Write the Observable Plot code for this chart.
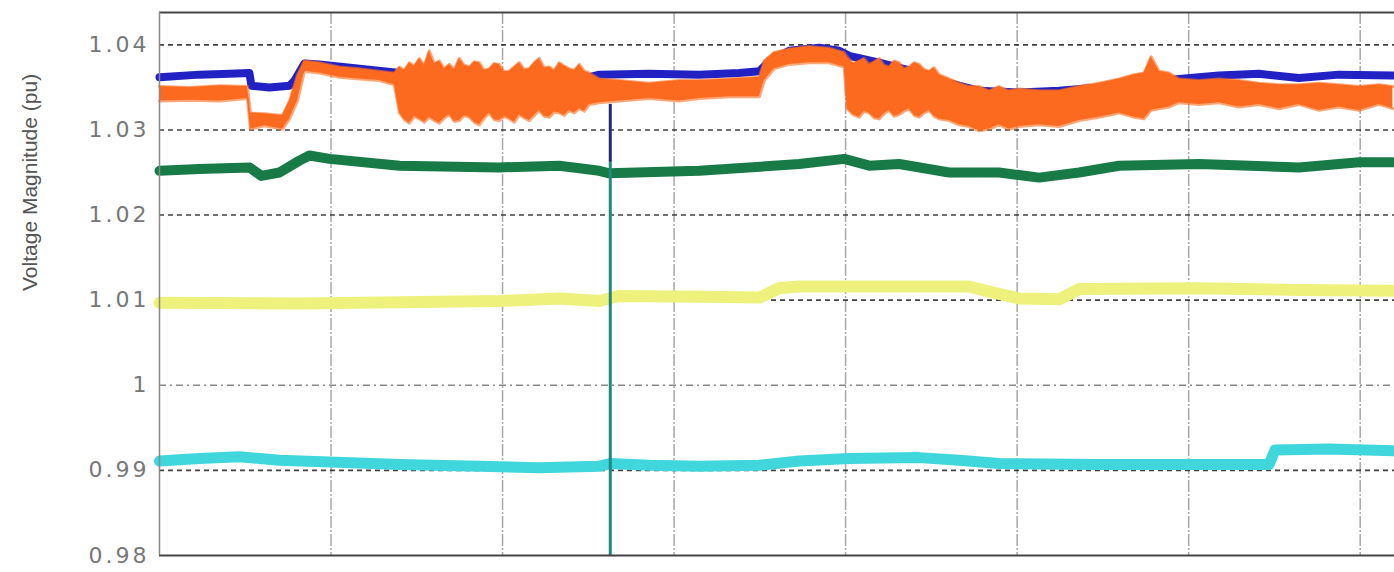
<!DOCTYPE html>
<html><head><meta charset="utf-8">
<script src="https://cdn.jsdelivr.net/npm/d3@7"></script>
<script src="https://cdn.jsdelivr.net/npm/@observablehq/plot@0.6"></script>
<style>body{margin:0;background:#fff}</style>
</head><body><div id="chart"></div>
<script>
const yTicks = [0.98, 0.99, 1, 1.01, 1.02, 1.03, 1.04];
const yTickLabels = ["0.98", "0.99", "1", "1.01", "1.02", "1.03", "1.04"];
const xGrid = [1, 2, 3, 4, 5, 6, 7];
const yLabel = "Voltage Magnitude (pu)";

const blueT = [0,0.233,0.408,0.524,0.536,0.641,0.758,0.787,0.845,0.932,1.166,1.399,1.690,1.981,2.273,2.506,2.564,2.855,3.147,3.380,3.497,3.555,3.671,3.846,3.963,4.021,4.196,4.429,4.604,4.779,5.012,5.245,5.478,5.711,5.944,6.177,6.410,6.643,6.876,7.191];
const blueV = [1.0362,1.0365,1.0366,1.0367,1.0352,1.0350,1.0352,1.0358,1.0378,1.0377,1.0372,1.0367,1.0364,1.0364,1.0364,1.0362,1.0365,1.0366,1.0365,1.0367,1.0369,1.0381,1.0393,1.03965,1.0393,1.0387,1.0379,1.0367,1.0355,1.0346,1.0344,1.0346,1.0350,1.0355,1.0360,1.0364,1.0366,1.0361,1.0365,1.0364];

const orangeT = [0,0.175,0.350,0.513,0.530,0.612,0.717,0.758,0.804,0.845,0.932,1.049,1.166,1.282,1.369,1.399,1.428,1.457,1.486,1.515,1.544,1.573,1.602,1.632,1.661,1.690,1.719,1.748,1.777,1.807,1.836,1.865,1.894,1.923,1.952,1.981,2.010,2.040,2.069,2.098,2.127,2.156,2.185,2.214,2.243,2.273,2.302,2.331,2.360,2.389,2.418,2.448,2.477,2.506,2.564,2.681,2.855,3.030,3.147,3.322,3.497,3.526,3.584,3.671,3.788,3.904,3.992,4.009,4.044,4.079,4.108,4.138,4.167,4.196,4.225,4.254,4.283,4.312,4.341,4.371,4.400,4.429,4.458,4.487,4.516,4.545,4.604,4.662,4.720,4.779,4.837,4.895,4.953,5.012,5.128,5.245,5.361,5.478,5.594,5.682,5.740,5.781,5.828,5.886,5.944,6.061,6.177,6.294,6.410,6.527,6.643,6.760,6.876,6.993,7.110,7.191];
const orangeLo = [1.0334,1.0335,1.0334,1.0337,1.0301,1.0305,1.0301,1.0313,1.0334,1.0369,1.0367,1.0362,1.0360,1.0358,1.0353,1.0320,1.0312,1.0308,1.0316,1.0313,1.0309,1.0315,1.0311,1.0308,1.0314,1.0318,1.0310,1.0311,1.0317,1.0315,1.0309,1.0306,1.0314,1.0320,1.0312,1.0311,1.0316,1.0313,1.0309,1.0318,1.0314,1.0311,1.0317,1.0323,1.0316,1.0315,1.0321,1.0320,1.0317,1.0323,1.0320,1.0325,1.0322,1.0330,1.0332,1.0334,1.0337,1.0334,1.0337,1.0339,1.0339,1.0358,1.0372,1.0377,1.0379,1.0379,1.0374,1.0325,1.0318,1.0315,1.0322,1.0320,1.0314,1.0313,1.0319,1.0323,1.0316,1.0318,1.0322,1.0325,1.0317,1.0315,1.0320,1.0323,1.0316,1.0313,1.0311,1.0306,1.0304,1.0299,1.0301,1.0306,1.0301,1.0304,1.0306,1.0304,1.0311,1.0315,1.0320,1.0315,1.0313,1.0323,1.0325,1.0327,1.0332,1.0330,1.0332,1.0327,1.0330,1.0325,1.0330,1.0323,1.0327,1.0323,1.0330,1.0325];
const orangeHi = [1.0351,1.0350,1.0352,1.0351,1.0320,1.0319,1.0317,1.0334,1.0364,1.0381,1.0379,1.0374,1.0372,1.0369,1.0367,1.0374,1.0370,1.0379,1.0375,1.0384,1.0376,1.0393,1.0378,1.0381,1.0372,1.0377,1.0371,1.0384,1.0376,1.0374,1.0380,1.0379,1.0370,1.0372,1.0378,1.0377,1.0368,1.0369,1.0374,1.0379,1.0371,1.0372,1.0379,1.0384,1.0373,1.0374,1.0370,1.0379,1.0375,1.0372,1.0370,1.0377,1.0369,1.0367,1.0360,1.0358,1.0355,1.0358,1.0358,1.0360,1.0362,1.0381,1.0391,1.0395,1.0398,1.0396,1.0391,1.0386,1.0378,1.0381,1.0384,1.0377,1.0380,1.0384,1.0376,1.0374,1.0381,1.0379,1.0372,1.0374,1.0379,1.0377,1.0371,1.0369,1.0373,1.0365,1.0360,1.0355,1.0351,1.0351,1.0346,1.0351,1.0346,1.0348,1.0346,1.0346,1.0351,1.0355,1.0360,1.0365,1.0367,1.0386,1.0369,1.0367,1.0360,1.0358,1.0360,1.0358,1.0355,1.0353,1.0353,1.0355,1.0353,1.0351,1.0353,1.0351];

const greenT = [0,0.233,0.524,0.594,0.699,0.816,0.874,0.991,1.399,1.981,2.331,2.564,2.622,3.147,3.730,3.992,4.138,4.312,4.604,4.895,5.128,5.361,5.594,6.061,6.643,6.993,7.191];
const greenV = [1.0252,1.0254,1.0256,1.0246,1.0250,1.0264,1.0270,1.0266,1.0258,1.0256,1.0258,1.0252,1.0249,1.0252,1.0260,1.0266,1.0258,1.0260,1.0250,1.0250,1.0244,1.0250,1.0258,1.0260,1.0256,1.0262,1.0262];

const yellowT = [0,0.816,1.632,1.981,2.331,2.564,2.681,3.147,3.497,3.613,3.730,4.720,4.837,5.012,5.245,5.361,6.061,6.643,7.191];
const yellowV = [1.0097,1.0096,1.0098,1.0099,1.0102,1.0099,1.0105,1.0104,1.0103,1.0114,1.0116,1.0116,1.0110,1.0102,1.0101,1.0113,1.0114,1.0112,1.0111];

const cyanT = [0,0.233,0.466,0.699,0.991,1.399,1.865,2.214,2.564,2.628,2.855,3.147,3.497,3.730,4.021,4.429,4.662,4.895,5.478,6.469,6.503,6.818,7.191];
const cyanV = [0.9911,0.9914,0.9916,0.9912,0.9910,0.9907,0.9905,0.9903,0.9905,0.9908,0.9906,0.9905,0.9906,0.9911,0.9914,0.9915,0.9912,0.9908,0.9907,0.9907,0.9924,0.9925,0.9923];

const spikeT = [2.628];
const spikeTop = [1.0330];
const spikeJoin = [1.0262];
const spikeBottom = [0.98];

const toPts = (t, v) => t.map((x, i) => ({t: x, v: v[i]}));
const blue = toPts(blueT, blueV);
const green = toPts(greenT, greenV);
const yellow = toPts(yellowT, yellowV);
const cyan = toPts(cyanT, cyanV);
const orange = orangeT.map((x, i) => ({t: x, lo: orangeLo[i], hi: orangeHi[i]}));
const spike = spikeT.map((x, i) => ({t: x, top: spikeTop[i], join: spikeJoin[i], bottom: spikeBottom[i]}));
const hGridDark = yTicks.filter(d => d > 0.98 && d !== 1);
const hGridLight = yTicks.filter(d => d === 1);

const chart = Plot.plot({
  width: 1394,
  height: 572,
  marginLeft: 159,
  marginRight: 0,
  marginTop: 12,
  marginBottom: 17,
  x: {domain: [0, 7.2], axis: null},
  y: {domain: [0.98, 1.0438], axis: null},
  style: {background: "#fff", fontFamily: "DejaVu Sans"},
  marks: [
    Plot.ruleX(xGrid, {stroke: "#a8a8a8", strokeWidth: 1.5, strokeDasharray: "12,2,2,2"}),
    Plot.ruleY(hGridDark, {stroke: "#222", strokeWidth: 1.6, strokeDasharray: "5,4", strokeOpacity: 0.85}),
    Plot.ruleY(hGridLight, {stroke: "#555", strokeWidth: 1.4, strokeDasharray: "7,4,2,4", strokeOpacity: 0.7}),
    Plot.line(blue, {x: "t", y: "v", stroke: "#2222c4", strokeWidth: 8, curve: "linear"}),
    Plot.areaY(orange, {x: "t", y1: "lo", y2: "hi", fill: "#fb6a1e", curve: "linear"}),
    Plot.line(orange, {x: "t", y: "hi", stroke: "#fb6a1e", strokeWidth: 3, strokeOpacity: 0.6}),
    Plot.line(orange, {x: "t", y: "lo", stroke: "#fb6a1e", strokeWidth: 3, strokeOpacity: 0.6}),
    Plot.line(green, {x: "t", y: "v", stroke: "#177a47", strokeWidth: 10, curve: "linear"}),
    Plot.line(yellow, {x: "t", y: "v", stroke: "#eef27c", strokeWidth: 12, curve: "linear"}),
    Plot.line(cyan, {x: "t", y: "v", stroke: "#3fd6dc", strokeWidth: 11, curve: "linear"}),
    Plot.ruleX(spike, {x: "t", y1: "join", y2: "bottom", stroke: "#1e8a84", strokeWidth: 3}),
    Plot.ruleX(spike, {x: "t", y1: "top", y2: "join", stroke: "#1c2a7a", strokeWidth: 3}),
    Plot.ruleY([0.98, 1.0438], {stroke: "#444", strokeWidth: 2}),
    Plot.ruleX([0], {stroke: "#888", strokeWidth: 1.5}),
    Plot.axisY(yTicks, {tickSize: 0, tickPadding: 10, tickFormat: (d) => yTickLabels[yTicks.indexOf(d)], label: null, fontSize: 22, fill: "#777"}),
    Plot.text([yLabel], {frameAnchor: "left", rotate: -90, dx: -129, dy: 7, fontSize: 21, fontFamily: "Liberation Sans", fill: "#555"})
  ]
});
document.getElementById("chart").appendChild(chart);
d3.select(chart).selectAll('g[aria-label="y-axis tick label"] text').attr("letter-spacing", "3px");
</script>
</body></html>
